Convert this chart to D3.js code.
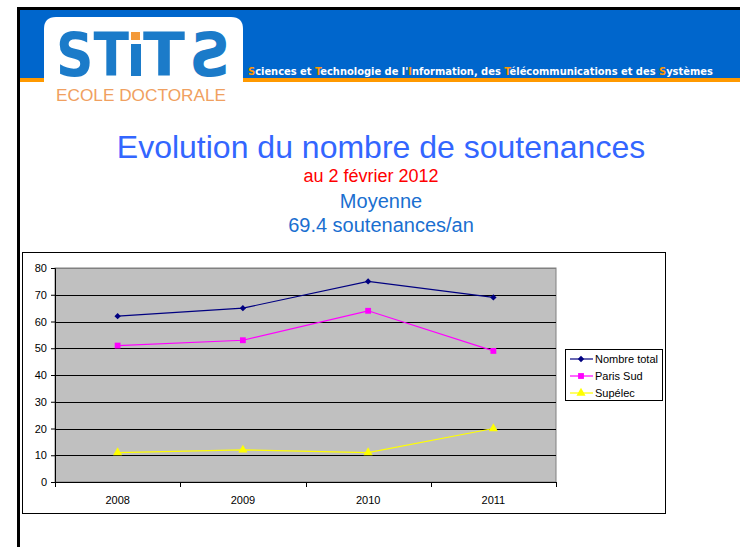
<!DOCTYPE html>
<html>
<head>
<meta charset="UTF-8">
<title>Evolution du nombre de soutenances</title>
<script src="https://cdn.jsdelivr.net/npm/d3@7"></script>
<style>
body { margin: 0; background: #fff; }
svg { display: block; font-family: "Liberation Sans", Arial, sans-serif; }
</style>
</head>
<body>
<svg class="slide" width="740" height="547"></svg>

<script>
// data
var years = ["2008", "2009", "2010", "2011"];
var nombreTotal = [62, 65, 75, 69];
var parisSud = [51, 53, 64, 49];
var supelec = [11, 12, 11, 20];
var yTicks = [0, 10, 20, 30, 40, 50, 60, 70, 80];
var seriesNames = ["Nombre total", "Paris Sud", "Supélec"];

var series = [
  {name: seriesNames[0], values: nombreTotal, color: "#000080", symbol: d3.symbolDiamond2, size: 26},
  {name: seriesNames[1], values: parisSud, color: "#ff00ff", symbol: d3.symbolSquare, size: 34},
  {name: seriesNames[2], values: supelec, color: "#ffff00", symbol: d3.symbolTriangle, size: 36}
];

var svg = d3.select(".slide");

//header band
svg.append("rect").attr("x", 18).attr("y", 7).attr("width", 722).attr("height", 3).attr("fill", "#000");
svg.append("rect").attr("x", 20).attr("y", 10).attr("width", 720).attr("height", 69).attr("fill", "#0066cc");
svg.append("rect").attr("x", 20).attr("y", 78).attr("width", 720).attr("height", 4).attr("fill", "#ff9900");
svg.append("rect").attr("x", 17).attr("y", 7).attr("width", 3).attr("height", 540).attr("fill", "#000");

//logo box
svg.append("path")
  .attr("d", "M44,112 L44,29 Q44,17 56,17 L231,17 Q243,17 243,29 L243,112 Z")
  .attr("fill", "#fff");

var logo = svg.append("g")
  .attr("font-family", "'DejaVu Sans', sans-serif")
  .attr("font-weight", "bold")
  .attr("font-size", 60)
  .attr("fill", "#1b7bc9");
logo.append("text").attr("x", 56).attr("y", 76)
  .attr("textLength", 73).attr("lengthAdjust", "spacingAndGlyphs").text("ST");
logo.append("rect").attr("x", 131).attr("y", 44).attr("width", 10).attr("height", 32);
logo.append("rect").attr("x", 131).attr("y", 32).attr("width", 9).attr("height", 8).attr("fill", "#f39a3a");
logo.append("text").attr("x", 143).attr("y", 76)
  .attr("textLength", 42).attr("lengthAdjust", "spacingAndGlyphs").text("T");
// mirrored S at the end
logo.append("text")
  .attr("transform", "translate(230,76) scale(-1,1)")
  .attr("textLength", 41)
  .attr("lengthAdjust", "spacingAndGlyphs")
  .text("S");
svg.append("text")
  .attr("x", 56).attr("y", 101)
  .attr("font-size", 16)
  .attr("textLength", 170)
  .attr("lengthAdjust", "spacingAndGlyphs")
  .attr("fill", "#f0a060")
  .text("ECOLE DOCTORALE");

//header text with orange initials
var head = svg.append("text")
  .attr("x", 248).attr("y", 75)
  .attr("font-family", "'Liberation Sans Narrow', 'DejaVu Sans Condensed', sans-serif")
  .attr("font-weight", "bold")
  .attr("font-size", 12)
  .attr("fill", "#fff");
var parts = [["S", 1], ["ciences et ", 0], ["T", 1], ["echnologie de l'", 0], ["I", 1],
             ["nformation, des ", 0], ["T", 1], ["élécommunications et des ", 0], ["S", 1], ["ystèmes", 0]];
parts.forEach(function(p){
  head.append("tspan").attr("fill", p[1] ? "#ff9900" : "#fff").text(p[0]);
});
// fit to the band width by font size
var headLen = head.node().getComputedTextLength();
head.attr("font-size", 12 * 465 / headLen);

//titles
svg.append("text").attr("x", 381).attr("y", 158).attr("text-anchor", "middle")
  .attr("font-size", 32).attr("fill", "#3366ff").text("Evolution du nombre de soutenances");
svg.append("text").attr("x", 371).attr("y", 182).attr("text-anchor", "middle")
  .attr("font-size", 18).attr("fill", "#ff0000").text("au 2 février 2012");
svg.append("text").attr("x", 381).attr("y", 208).attr("text-anchor", "middle")
  .attr("font-size", 20).attr("fill", "#1a6fd0").text("Moyenne");
svg.append("text").attr("x", 381).attr("y", 232).attr("text-anchor", "middle")
  .attr("font-size", 20).attr("fill", "#1a6fd0").text("69.4 soutenances/an");

//chart box
svg.append("rect").attr("x", 22.5).attr("y", 252.5).attr("width", 643).attr("height", 261)
  .attr("fill", "#fff").attr("stroke", "#000").attr("stroke-width", 1);

var margin = {top: 268, left: 55};
var width = 501;
var height = 214;

var chart = svg.append("g")
  .attr("transform", "translate(" + margin.left + "," + margin.top + ")");

var xChart = d3.scaleBand().domain(years).range([0, width]);
var yChart = d3.scaleLinear().domain([0, 80]).range([height, 0]);

chart.append("rect").attr("width", width).attr("height", height)
  .attr("fill", "#c0c0c0").attr("stroke", "#808080");

//gridlines
chart.selectAll(".grid").data(yTicks.slice(1, -1)).enter()
  .append("line")
  .attr("x1", 0).attr("x2", width)
  .attr("y1", function(d){ return Math.round(yChart(d)) + 0.5; })
  .attr("y2", function(d){ return Math.round(yChart(d)) + 0.5; })
  .attr("stroke", "#000");
chart.append("line").attr("x1", 0).attr("x2", width).attr("y1", 0.5).attr("y2", 0.5).attr("stroke", "#808080");

//left axis
var yAxis = d3.axisLeft(yChart).tickValues(yTicks).tickSize(4).tickPadding(4);
chart.append("g").attr("class", "y axis").call(yAxis);

//bottom axis, ticks on band edges
var xAxis = d3.axisBottom(xChart).tickSize(0).tickPadding(14);
var xg = chart.append("g").attr("class", "x axis")
  .attr("transform", "translate(0," + height + ")")
  .call(xAxis);
xg.selectAll(".edge").data(years.concat([""])).enter()
  .append("line")
  .attr("x1", function(d, i){ return Math.round(i * xChart.step()) + 0.5; })
  .attr("x2", function(d, i){ return Math.round(i * xChart.step()) + 0.5; })
  .attr("y1", 0).attr("y2", 5)
  .attr("stroke", "#000");

svg.selectAll(".axis path").attr("stroke", "#000");
svg.selectAll(".axis line").attr("stroke", "#000");
svg.selectAll(".axis text").attr("font-family", "'Liberation Sans', Arial, sans-serif")
  .attr("font-size", 11).attr("fill", "#000");

//lines and markers
var line = d3.line()
  .x(function(d, i){ return xChart(years[i]) + xChart.bandwidth() / 2; })
  .y(function(d){ return yChart(d); });

series.forEach(function(s){
  chart.append("path")
    .attr("d", line(s.values))
    .attr("fill", "none")
    .attr("stroke", s.color)
    .attr("stroke-width", 1.2);
  chart.selectAll(null).data(s.values).enter()
    .append("path")
    .attr("d", d3.symbol().type(s.symbol).size(s.size))
    .attr("transform", function(d, i){
      return "translate(" + (xChart(years[i]) + xChart.bandwidth() / 2) + "," + yChart(d) + ")";
    })
    .attr("fill", s.color);
});

//legend
var legend = svg.append("g").attr("transform", "translate(565,349)");
legend.append("rect").attr("x", 0.5).attr("y", 0.5).attr("width", 97).attr("height", 51)
  .attr("fill", "#fff").attr("stroke", "#000");
series.forEach(function(s, i){
  var gy = 10 + i * 17;
  legend.append("line").attr("x1", 5).attr("x2", 28).attr("y1", gy).attr("y2", gy)
    .attr("stroke", s.color).attr("stroke-width", 1.2);
  legend.append("path").attr("d", d3.symbol().type(s.symbol).size(s.size))
    .attr("transform", "translate(16," + gy + ")").attr("fill", s.color);
  legend.append("text").attr("x", 30).attr("y", gy + 4)
    .attr("font-size", 11).attr("fill", "#000").text(s.name);
});
</script>
</body>
</html>
